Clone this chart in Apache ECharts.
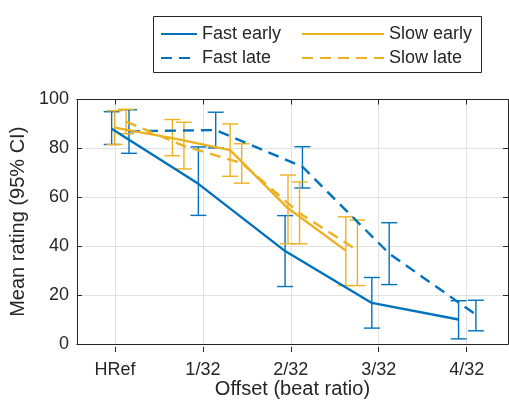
<!DOCTYPE html>
<html>
<head>
<meta charset="utf-8">
<script src="https://cdn.jsdelivr.net/npm/echarts@6/dist/echarts.min.js"></script>
<style>
  html, body { margin: 0; padding: 0; background: #ffffff; }
  #chart { width: 509px; height: 404px; }
</style>
</head>
<body>
<div id="chart"></div>
<script>
// Offset levels and their tick labels
const tickLabels = ['HRef', '1/32', '2/32', '3/32', '4/32'];
const fastOffsets = [0, 1, 2, 3, 4];
// Slow tempo: same offsets expressed in fast-beat units
const slowOffsets = [0, 0.667, 1.333, 2, 2.667];

// Mean ratings with 95% CI bounds
const fastEarlyMean = [88, 65.5, 38, 16.8, 10];
const fastEarlyLow  = [81.6, 52.6, 23.5, 6.5, 2.1];
const fastEarlyHigh = [95, 80.6, 52.5, 27.2, 17.7];

const fastLateMean = [87, 87.5, 72.5, 37, 12];
const fastLateLow  = [78, 80.2, 63.8, 24.3, 5.4];
const fastLateHigh = [95.8, 94.8, 80.7, 49.6, 17.9];

const slowEarlyMean = [88.5, 84.2, 79.3, 55.5, 38.2];
const slowEarlyLow  = [81.6, 77, 68.6, 41, 23.9];
const slowEarlyHigh = [95.4, 91.8, 90, 69.1, 52];

const slowLateMean = [91, 81, 74, 53.5, 38.3];
const slowLateLow  = [86, 71.6, 65.8, 41, 23.9];
const slowLateHigh = [96, 90.7, 81.9, 66.3, 50.7];

const yTicks = [0, 20, 40, 60, 80, 100];

const FONT = '"Liberation Sans", Arial, Helvetica, sans-serif';
const INK = '#262626';
const GRID_C = '#e2e2e2';
const BLUE = '#0072BD';
const GOLD = '#EDB120';

// Horizontal dodge so the groups do not overlap
const DODGE = 0.1;

function points(xs, shift, ys) {
  return xs.map((x, i) => [x + shift, ys[i]]);
}
function bars(xs, shift, lo, hi) {
  return xs.map((x, i) => [x + shift, lo[i], hi[i]]);
}

const slowScale = slowOffsets[1] / fastOffsets[1];

const groups = [
  { name: 'Fast early', color: BLUE, dash: 'solid', xs: fastOffsets, shift: -DODGE,
    mean: fastEarlyMean, lo: fastEarlyLow, hi: fastEarlyHigh },
  { name: 'Fast late', color: BLUE, dash: [11, 7], xs: fastOffsets, shift: DODGE,
    mean: fastLateMean, lo: fastLateLow, hi: fastLateHigh },
  { name: 'Slow early', color: GOLD, dash: 'solid', xs: slowOffsets, shift: -DODGE * slowScale,
    mean: slowEarlyMean, lo: slowEarlyLow, hi: slowEarlyHigh },
  { name: 'Slow late', color: GOLD, dash: [11, 7], xs: slowOffsets, shift: DODGE * slowScale,
    mean: slowLateMean, lo: slowLateLow, hi: slowLateHigh }
];

// Plot box
const X_MIN = -0.5, X_MAX = 4.47;
const box = { left: 71, right: 1, top: 99.5, bottom: 52 };
const W = 509;
const unit = (W - box.left - box.right) / (X_MAX - X_MIN);
// Second grid spanning exactly the labelled offsets (used for ticks, labels and vertical grid lines)
const tickBox = {
  left: box.left + (0 - X_MIN) * unit,
  right: box.right + (X_MAX - 4) * unit,
  top: box.top,
  bottom: box.bottom
};

function errorBarRender(params, api) {
  const x = api.value(0);
  const pLo = api.coord([x, api.value(1)]);
  const pHi = api.coord([x, api.value(2)]);
  const hw = 8;
  const style = { stroke: api.visual('color'), lineWidth: 1.4, fill: null };
  return {
    type: 'group',
    children: [
      { type: 'line', shape: { x1: pLo[0], y1: pLo[1], x2: pHi[0], y2: pHi[1] }, style: style },
      { type: 'line', shape: { x1: pLo[0] - hw, y1: pLo[1], x2: pLo[0] + hw, y2: pLo[1] }, style: style },
      { type: 'line', shape: { x1: pHi[0] - hw, y1: pHi[1], x2: pHi[0] + hw, y2: pHi[1] }, style: style }
    ]
  };
}

const series = [];
groups.forEach(g => {
  series.push({
    type: 'custom',
    name: g.name + ' CI',
    xAxisIndex: 0, yAxisIndex: 0,
    renderItem: errorBarRender,
    itemStyle: { color: g.color },
    encode: { x: 0, y: [1, 2] },
    data: bars(g.xs, g.shift, g.lo, g.hi),
    z: 3,
    silent: true
  });
});
groups.forEach(g => {
  series.push({
    type: 'line',
    name: g.name,
    xAxisIndex: 0, yAxisIndex: 0,
    data: points(g.xs, g.shift, g.mean),
    symbol: 'none',
    color: g.color,
    lineStyle: { color: g.color, width: 2.4, type: g.dash },
    z: 4,
    animation: false
  });
});

const tickLen = 5;
const legendBase = {
  orient: 'vertical', top: 20, itemHeight: 12, itemGap: 6,
  itemStyle: { opacity: 0 },
  textStyle: { fontFamily: FONT, fontSize: 18, color: INK },
  selectedMode: false
};

const chart = echarts.init(document.getElementById('chart'), null, { renderer: 'canvas' });
chart.setOption({
  animation: false,
  backgroundColor: '#ffffff',
  grid: [
    Object.assign({ containLabel: false }, box),
    Object.assign({ containLabel: false }, tickBox)
  ],
  xAxis: [
    { // data axis, draws the bottom spine
      type: 'value', gridIndex: 0, position: 'bottom', min: X_MIN, max: X_MAX,
      axisLine: { show: true, onZero: false, lineStyle: { color: INK, width: 1 } },
      axisTick: { show: false }, axisLabel: { show: false }, splitLine: { show: false },
      name: 'Offset (beat ratio)', nameLocation: 'middle', nameGap: 35,
      nameTextStyle: { fontFamily: FONT, fontSize: 20, color: INK }
    },
    { // top spine
      type: 'value', gridIndex: 0, position: 'top', min: X_MIN, max: X_MAX,
      axisLine: { show: true, onZero: false, lineStyle: { color: INK, width: 1 } },
      axisTick: { show: false }, axisLabel: { show: false }, splitLine: { show: false }
    },
    { // offset labels, ticks and vertical grid lines
      type: 'value', gridIndex: 1, position: 'bottom', min: 0, max: 4, interval: 1,
      axisLine: { show: false },
      axisTick: { show: true, inside: true, length: tickLen, lineStyle: { color: INK } },
      axisLabel: { show: true, margin: 9, fontFamily: FONT, fontSize: 18, color: INK,
        formatter: v => tickLabels[Math.round(v)] },
      splitLine: { show: true, lineStyle: { color: GRID_C, width: 1 } }
    },
    {
      type: 'value', gridIndex: 1, position: 'top', min: 0, max: 4, interval: 1,
      axisLine: { show: false },
      axisTick: { show: true, inside: true, length: tickLen, lineStyle: { color: INK } },
      axisLabel: { show: false }, splitLine: { show: false }
    }
  ],
  yAxis: [
    {
      type: 'value', gridIndex: 0, position: 'left', min: yTicks[0], max: yTicks[yTicks.length - 1], interval: 20,
      axisLine: { show: true, onZero: false, lineStyle: { color: INK, width: 1 } },
      axisTick: { show: true, inside: true, length: tickLen, lineStyle: { color: INK } },
      axisLabel: { margin: 8, fontFamily: FONT, fontSize: 18, color: INK },
      splitLine: { show: true, lineStyle: { color: GRID_C, width: 1 } },
      name: 'Mean rating (95% CI)', nameLocation: 'middle', nameGap: 33, nameRotate: 90,
      nameTextStyle: { fontFamily: FONT, fontSize: 20, color: INK }
    },
    {
      type: 'value', gridIndex: 0, position: 'right', min: 0, max: 100, interval: 20,
      axisLine: { show: true, onZero: false, lineStyle: { color: INK, width: 1 } },
      axisTick: { show: true, inside: true, length: tickLen, lineStyle: { color: INK } },
      axisLabel: { show: false }, splitLine: { show: false }
    },
    {
      type: 'value', gridIndex: 1, min: 0, max: 100, show: false
    }
  ],
  legend: [
    Object.assign({}, legendBase, { data: ['Fast early', 'Fast late'], left: 155, itemWidth: 36 }),
    Object.assign({}, legendBase, { data: ['Slow early', 'Slow late'], left: 296, itemWidth: 82 })
  ],
  graphic: [
    { type: 'rect', left: 151, top: 14, shape: { width: 328, height: 56 },
      style: { fill: null, stroke: INK, lineWidth: 1 }, silent: true, z: 10 }
  ],
  series: series
});
</script>
</body>
</html>
